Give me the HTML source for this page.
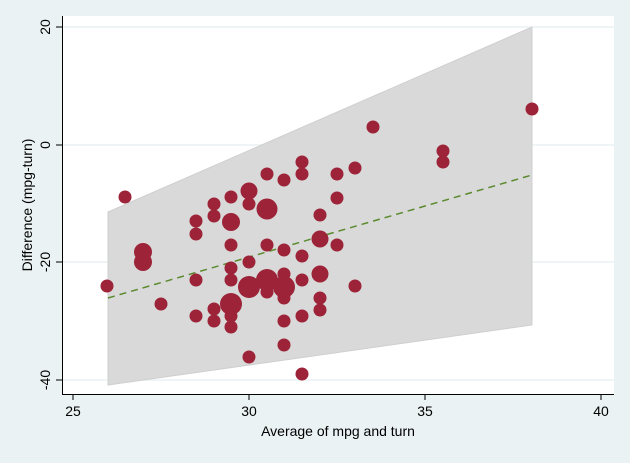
<!DOCTYPE html>
<html><head><style>body{margin:0;background:#eaf2f3}</style></head><body>
<svg width="630" height="458" xmlns="http://www.w3.org/2000/svg" font-family="Liberation Sans, sans-serif">
<rect width="630" height="458" fill="#eaf2f3"/>
<rect x="62" y="16" width="552" height="378" fill="#fff"/>
<g stroke="#eaf2f3" stroke-width="1.5">
<line x1="62" x2="614" y1="27" y2="27"/><line x1="62" x2="614" y1="145" y2="145"/>
<line x1="62" x2="614" y1="262" y2="262"/><line x1="62" x2="614" y1="380" y2="380"/>
</g>
<polygon points="108,212 532,27 532,325 108,385" fill="#d9d9d9" stroke="#cfcfcf"/>
<line x1="108" y1="298" x2="532" y2="175" stroke="#5b8a2e" stroke-width="1.5" stroke-dasharray="7,5"/>
<g fill="#9c2338">
<circle cx="107" cy="286" r="6.5"/><circle cx="125" cy="197" r="6.5"/>
<circle cx="143" cy="252" r="9"/><circle cx="143" cy="262" r="9"/>
<circle cx="161" cy="304" r="6.5"/>
<circle cx="196" cy="221" r="6.5"/><circle cx="196" cy="234" r="6.5"/><circle cx="196" cy="280" r="6.5"/><circle cx="196" cy="316" r="6.5"/>
<circle cx="214" cy="204" r="6.5"/><circle cx="214" cy="216" r="6.5"/><circle cx="214" cy="309" r="6.5"/><circle cx="214" cy="321" r="6.5"/>
<circle cx="231" cy="197" r="6.5"/><circle cx="231" cy="222" r="9"/><circle cx="231" cy="245" r="6.5"/><circle cx="231" cy="268" r="6.5"/><circle cx="231" cy="280" r="6.5"/><circle cx="231" cy="304" r="11"/><circle cx="231" cy="316" r="6.5"/><circle cx="231" cy="327" r="6.5"/>
<circle cx="249" cy="191" r="8.5"/><circle cx="249" cy="204" r="6.5"/><circle cx="249" cy="262" r="6.5"/><circle cx="249" cy="287" r="11"/><circle cx="249" cy="357" r="6.5"/>
<circle cx="267" cy="174" r="6.5"/><circle cx="267" cy="209" r="10.5"/><circle cx="267" cy="245" r="6.5"/><circle cx="267" cy="280" r="11"/><circle cx="267" cy="292" r="6.5"/>
<circle cx="284" cy="180" r="6.5"/><circle cx="284" cy="250" r="6.5"/><circle cx="284" cy="274" r="6.5"/><circle cx="284" cy="287" r="11"/><circle cx="284" cy="298" r="6.5"/><circle cx="284" cy="321" r="6.5"/><circle cx="284" cy="345" r="6.5"/>
<circle cx="302" cy="162" r="6.5"/><circle cx="302" cy="174" r="6.5"/><circle cx="302" cy="256" r="6.5"/><circle cx="302" cy="280" r="6.5"/><circle cx="302" cy="316" r="6.5"/><circle cx="302" cy="374" r="6.5"/>
<circle cx="320" cy="215" r="6.5"/><circle cx="320" cy="239" r="8.5"/><circle cx="320" cy="274" r="8.5"/><circle cx="320" cy="298" r="6.5"/><circle cx="320" cy="310" r="6.5"/>
<circle cx="337" cy="174" r="6.5"/><circle cx="337" cy="198" r="6.5"/><circle cx="337" cy="245" r="6.5"/>
<circle cx="355" cy="168" r="6.5"/><circle cx="355" cy="286" r="6.5"/>
<circle cx="373" cy="127" r="6.5"/>
<circle cx="443" cy="151" r="6.5"/><circle cx="443" cy="162" r="6.5"/>
<circle cx="532" cy="109" r="6.5"/>
</g>
<g stroke="#000" stroke-width="1">
<line x1="62.5" y1="16" x2="62.5" y2="394.5"/><line x1="62" y1="394.5" x2="614" y2="394.5"/>
<line x1="56" x2="62" y1="27" y2="27"/><line x1="56" x2="62" y1="145" y2="145"/><line x1="56" x2="62" y1="262" y2="262"/><line x1="56" x2="62" y1="380" y2="380"/>
<line x1="73" x2="73" y1="394" y2="400"/><line x1="249" x2="249" y1="394" y2="400"/><line x1="425" x2="425" y1="394" y2="400"/><line x1="601" x2="601" y1="394" y2="400"/>
</g>
<g font-size="14" fill="#000" text-anchor="middle">
<text x="73" y="416">25</text><text x="249" y="416">30</text><text x="425" y="416">35</text><text x="601" y="416">40</text>
<text transform="translate(50,27) rotate(-90)">20</text>
<text transform="translate(50,145) rotate(-90)">0</text>
<text transform="translate(50,262) rotate(-90)">-20</text>
<text transform="translate(50,380) rotate(-90)">-40</text>
<text x="338" y="436">Average of mpg and turn</text>
<text transform="translate(32,205) rotate(-90)">Difference (mpg-turn)</text>
</g>
</svg>
</body></html>
